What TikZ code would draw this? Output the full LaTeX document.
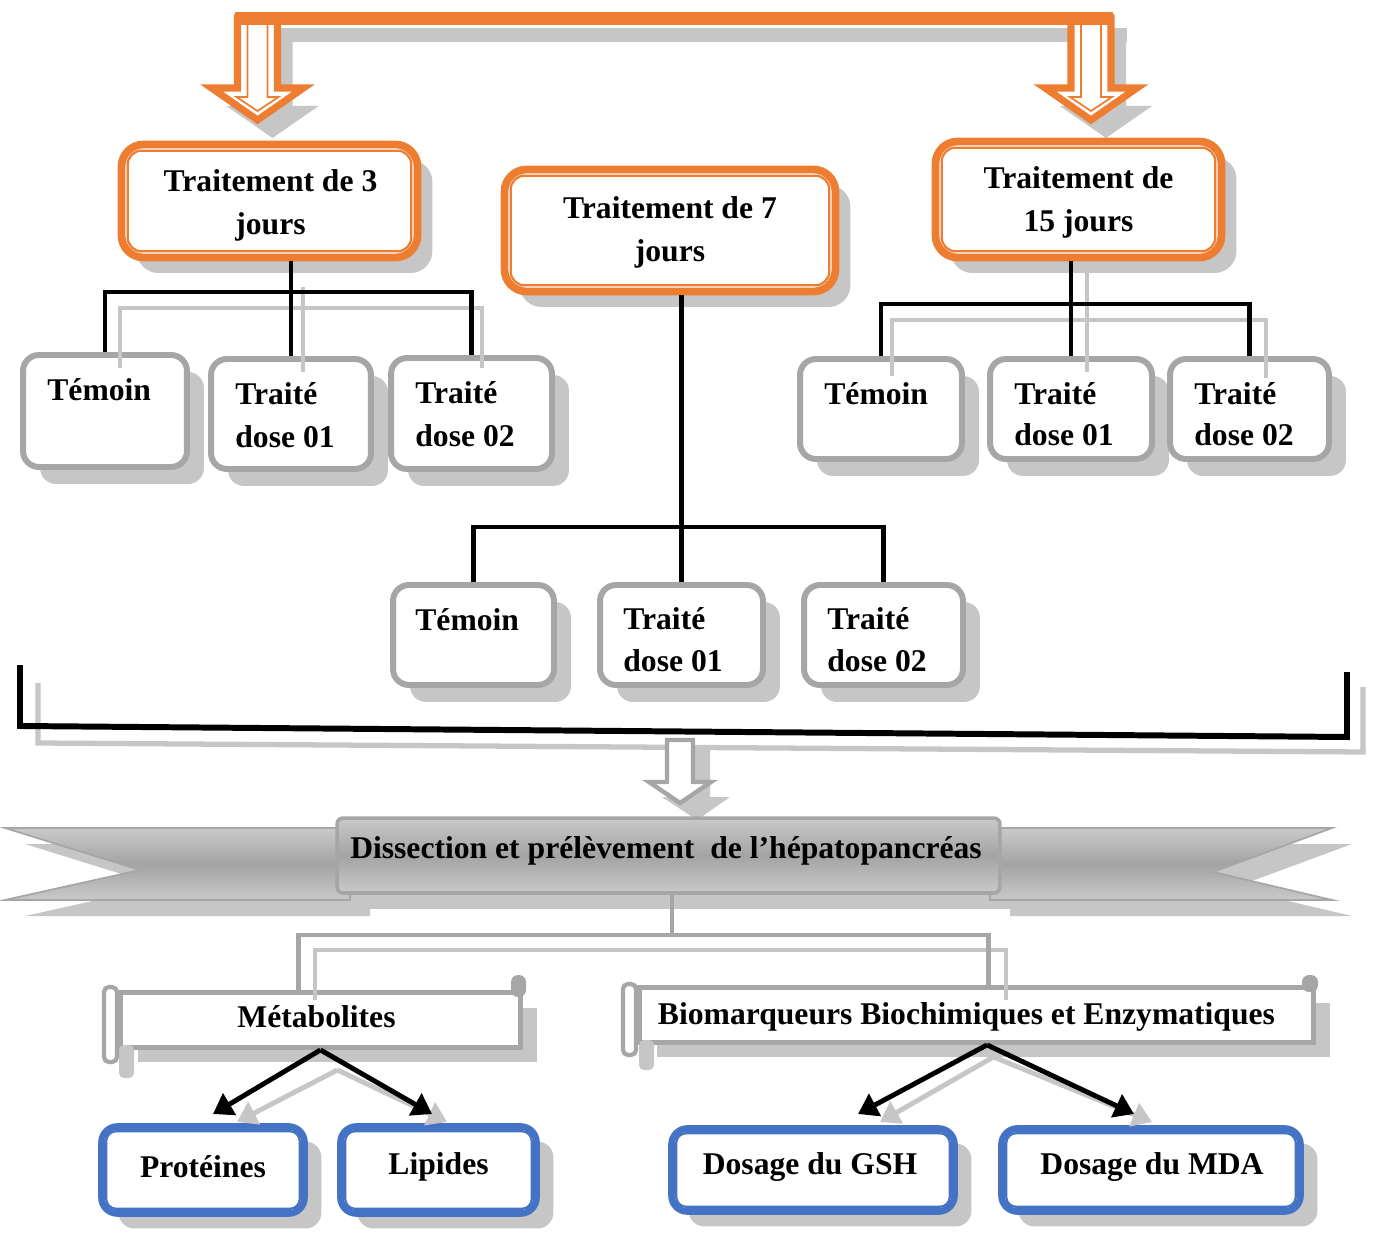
\documentclass[tikz,border=0pt]{standalone}
\usepackage{fontspec}
\setmainfont{Liberation Serif}
\usetikzlibrary{shadows,arrows.meta,calc}
\definecolor{orng}{RGB}{237,125,49}
\definecolor{bblue}{RGB}{68,114,196}
\definecolor{gbord}{RGB}{166,166,166}
\definecolor{shadc}{RGB}{198,198,198}
\newcommand\fs{\fontsize{18}{24.5}\selectfont\bfseries}
\tikzset{
  ob/.style={draw=orng, line width=4.4pt, rounded corners=0.44cm, fill=white, inner sep=0pt,
    drop shadow={shadow xshift=0.3cm, shadow yshift=-0.31cm, fill=shadc, opacity=1}},
  oin/.style={draw=orng, line width=1.3pt, rounded corners=0.28cm},
  gb/.style={draw=gbord, line width=3.4pt, rounded corners=0.32cm, fill=white, inner sep=0pt,
    drop shadow={shadow xshift=0.34cm, shadow yshift=-0.34cm, fill=shadc, opacity=1}},
  bb/.style={draw=bblue, line width=3.8pt, rounded corners=0.32cm, fill=white, inner sep=0pt,
    drop shadow={shadow xshift=0.34cm, shadow yshift=-0.3cm, fill=shadc, opacity=1}},
  bin/.style={draw=bblue, line width=1.3pt, rounded corners=0.2cm},
  sc/.style={draw=gbord, line width=2.8pt, fill=white, inner sep=0pt,
    drop shadow={shadow xshift=0.34cm, shadow yshift=-0.3cm, fill=shadc, opacity=1}},
  blk/.style={line width=2.8pt, black},
  shl/.style={line width=2.6pt, shadc},
  gcon/.style={line width=2.8pt, gbord},
  arr/.style={line width=2.8pt, black, -{Triangle[width=14pt,length=11pt]}},
  sarr/.style={line width=2.8pt, shadc, -{Triangle[width=14pt,length=11pt]}},
  lbl/.style={inner sep=0pt, anchor=base west},
  ctxt/.style={inner sep=0pt, align=center},
  bshade/.style={top color=gray!42, bottom color=gray!42, middle color=gray!72},
  tarr/.style={insert path={(#1-20,18) -- (#1-20,88) -- (#1-46,88) -- (#1,120) -- (#1+46,88) -- (#1+20,88) -- (#1+20,18) -- cycle}},
  tarrin/.style={insert path={(#1-10,18) -- (#1-10,97) -- (#1-21,97) -- (#1,111) -- (#1+21,97) -- (#1+10,97) -- (#1+10,18)}},
}
\begin{document}
\begin{tikzpicture}[x=0.02cm,y=-0.02cm,font=\fs]
\fill[white] (0,0) rectangle (1374,1233);
\useasboundingbox (0,0) rectangle (1374,1233);

% ---------- top orange arrows ----------
\fill[shadc] (252,28) rectangle (1127,42);
\fill[shadc, shift={(15,18)}] [tarr=257.5];
\fill[shadc, shift={(15,18)}] [tarr=1091];
\draw[orng, line width=4pt, fill=white, line join=miter] [tarr=257.5];
\draw[orng, line width=1pt] [tarrin=257.5];
\draw[orng, line width=4pt, fill=white, line join=miter] [tarr=1091];
\draw[orng, line width=1pt] [tarrin=1091];
\fill[orng] (235,12) rectangle (1113,25);

% ---------- treatment boxes ----------
\node[ob, minimum width=5.92cm, minimum height=2.26cm] (o3) at (269.5,201) {};
\node[ob, minimum width=6.62cm, minimum height=2.44cm] (o7) at (670,230.5) {};
\node[ob, minimum width=5.72cm, minimum height=2.32cm] (o15) at (1078.5,199.5) {};
\draw[oin] ($(o3.north west)+(10,10)$) rectangle ($(o3.south east)+(-10,-10)$);
\draw[oin] ($(o7.north west)+(10,10)$) rectangle ($(o7.south east)+(-10,-10)$);
\draw[oin] ($(o15.north west)+(10,10)$) rectangle ($(o15.south east)+(-10,-10)$);
\node[ctxt] (o3t) at ($(o3.center)+(1,4)$) {Traitement de 3\\jours};
\node[ctxt] (o7t) at ($(o7.center)+(0,2)$) {Traitement de 7\\jours};
\node[ctxt] (o15t) at ($(o15.center)+(0,3)$) {Traitement de\\15 jours};

% ---------- group boxes ----------
\node[gb, minimum width=3.28cm, minimum height=2.24cm] (g1) at (105,411) {};
\node[gb, minimum width=3.2cm, minimum height=2.2cm] (g2) at (291,414) {};
\node[gb, minimum width=3.22cm, minimum height=2.22cm] (g3) at (471.5,413.5) {};
\node[gb, minimum width=3.24cm, minimum height=2.0cm] (g4) at (881,409) {};
\node[gb, minimum width=3.24cm, minimum height=2.0cm] (g5) at (1071,409) {};
\node[gb, minimum width=3.18cm, minimum height=2.0cm] (g6) at (1249.5,409) {};
\node[gb, minimum width=3.22cm, minimum height=2.0cm] (g7) at (473.5,635) {};
\node[gb, minimum width=3.26cm, minimum height=2.0cm] (g8) at (681.5,635) {};
\node[gb, minimum width=3.18cm, minimum height=2.0cm] (g9) at (883.5,635) {};

\node[lbl] (t1) at ([shift={(27,48)}]g1.north west) {Témoin};
\node[lbl] (t2a) at ([shift={(27,48)}]g2.north west) {Traité};
\node[lbl] (t2b) at ([shift={(27,91)}]g2.north west) {dose 01};
\node[lbl] (t3a) at ([shift={(27,48)}]g3.north west) {Traité};
\node[lbl] (t3b) at ([shift={(27,91)}]g3.north west) {dose 02};
\node[lbl] (t4) at ([shift={(27,48)}]g4.north west) {Témoin};
\node[lbl] (t5a) at ([shift={(27,48)}]g5.north west) {Traité};
\node[lbl] (t5b) at ([shift={(27,89)}]g5.north west) {dose 01};
\node[lbl] (t6a) at ([shift={(27,48)}]g6.north west) {Traité};
\node[lbl] (t6b) at ([shift={(27,89)}]g6.north west) {dose 02};
\node[lbl] (t7) at ([shift={(25,48)}]g7.north west) {Témoin};
\node[lbl] (t8a) at ([shift={(26,47)}]g8.north west) {Traité};
\node[lbl] (t8b) at ([shift={(26,89)}]g8.north west) {dose 01};
\node[lbl] (t9a) at ([shift={(26,47)}]g9.north west) {Traité};
\node[lbl] (t9b) at ([shift={(26,89)}]g9.north west) {dose 02};

% ---------- connector shadows (top groups) ----------
\draw[shl] (120,368) -- (120,308) -- (482,308) -- (482,368);
\draw[shl] (303,287) -- (303,372);
\draw[shl] (892,376) -- (892,320) -- (1266,320) -- (1266,378);
\draw[shl] (1087,273) -- (1087,372);

% ---------- black connectors ----------
\coordinate (hL) at (0,292);
\coordinate (hM) at (0,527);
\coordinate (hR) at (0,304);
\draw[blk] (g1.north) -- (g1.north |- hL) -- (g3.north |- hL) -- (g3.north);
\draw[blk] (o3.south -| g2.north) -- (g2.north);
\draw[blk] (g7.north) -- (g7.north |- hM) -- (g9.north |- hM) -- (g9.north);
\draw[blk] (o7.south -| g8.north) -- (g8.north);
\draw[blk] (g4.north) -- (g4.north |- hR) -- (g6.north |- hR) -- (g6.north);
\draw[blk] (o15.south -| g5.north) -- (g5.north);

% ---------- bracket ----------
\draw[shl, line width=3pt] (38,683) -- (38,743) -- (1363,752) -- (1363,687);
\draw[black, line width=3.4pt, line join=miter] (20,665) -- (20,726) -- (1347,737) -- (1347,672);

% grey hollow arrow
\fill[shadc] (684,745) -- (684,797) -- (662,797) -- (697,820) -- (730,797) -- (710,797) -- (710,745) -- cycle;
\draw[gbord, line width=2.5pt, fill=white, line join=miter] (667,740) -- (667,782) -- (649,782) -- (680,803) -- (711,782) -- (693,782) -- (693,740) -- cycle;

% ---------- banner ----------
\begin{scope}[shift={(20,16)}]
  \fill[shadc] (5,828) -- (350,828) -- (350,900) -- (5,900) -- (140,870) -- cycle;
  \fill[shadc] (990,828) -- (1332,828) -- (1213,872) -- (1332,900) -- (990,900) -- cycle;
  \fill[shadc] (337,818) rectangle (1000,893);
\end{scope}
\draw[gbord, line width=1pt, bshade] (5,828) -- (350,828) -- (350,900) -- (5,900) -- (140,870) -- cycle;
\draw[gbord, line width=1pt, bshade] (990,828) -- (1332,828) -- (1213,872) -- (1332,900) -- (990,900) -- cycle;
\node[draw=gbord, line width=2pt, bshade, rounded corners=0.12cm, minimum width=13.26cm, minimum height=1.5cm, inner sep=0pt] (dis) at (668.5,855.5) {};
\node[inner sep=0pt] (dtxt) at (666,851) {Dissection et prélèvement~ de l’hépatopancréas};

% ---------- scrolls ----------
\node[sc, minimum width=8.0cm, minimum height=1.1cm] (m) at (320.5,1020) {};
\node[sc, minimum width=13.48cm, minimum height=1.1cm] (bio) at (976.5,1015) {};
\node[inner sep=0pt] (mt) at ($(m.center)+(-4,-3)$) {Métabolites};
\node[inner sep=0pt] (biot) at ($(bio.center)+(-10,2)$) {Biomarqueurs Biochimiques et Enzymatiques};
% curls
\fill[shadc, rounded corners=0.1cm] (119,1045) rectangle (134,1078);
\draw[gbord, line width=2.4pt, fill=white, rounded corners=0.1cm] (104,987) rectangle (117,1062);
\fill[gbord, rounded corners=0.14cm] (511,975) rectangle (526,997);
\fill[shadc, rounded corners=0.1cm] (639,1040) rectangle (654,1070);
\draw[gbord, line width=2.4pt, fill=white, rounded corners=0.1cm] (623,984) rectangle (636,1055);
\fill[gbord, rounded corners=0.14cm] (1302,975) rectangle (1318,992);

% grey connector from banner
\coordinate (jb) at (672,935);
\draw[shl] (315,1000) -- (315,950) -- (1006,950) -- (1006,1000);
\draw[gcon] (dis.south -| jb) -- (jb);
\draw[gcon] ($(m.north west)+(180,0)$) |- (jb) -| ($(bio.north west)+(351,0)$);

% ---------- result boxes ----------
\node[bb, minimum width=4.06cm, minimum height=1.74cm] (b1) at (203,1170) {};
\node[bb, minimum width=3.92cm, minimum height=1.74cm] (b2) at (438.5,1170) {};
\node[bb, minimum width=5.66cm, minimum height=1.66cm] (b3) at (813,1170) {};
\node[bb, minimum width=5.98cm, minimum height=1.66cm] (b4) at (1151,1170) {};
\draw[bin] ($(b1.north west)+(8,8)$) rectangle ($(b1.south east)+(-8,-8)$);
\draw[bin] ($(b2.north west)+(8,8)$) rectangle ($(b2.south east)+(-8,-8)$);
\draw[bin] ($(b3.north west)+(8,8)$) rectangle ($(b3.south east)+(-8,-8)$);
\draw[bin] ($(b4.north west)+(8,8)$) rectangle ($(b4.south east)+(-8,-8)$);
\node[inner sep=0pt] (b1t) at ($(b1.center)+(0,-3)$) {Protéines};
\node[inner sep=0pt] (b2t) at ($(b2.center)+(0,-3)$) {Lipides};
\node[inner sep=0pt] (b3t) at ($(b3.center)+(-3,-3)$) {Dosage du GSH};
\node[inner sep=0pt] (b4t) at ($(b4.center)+(1,-3)$) {Dosage du MDA};

% ---------- arrows ----------
\coordinate (pa) at (213,1114);
\coordinate (la) at (432,1114);
\coordinate (ga) at (858,1114);
\coordinate (ma) at (1134,1114);
\draw[sarr] ([shift={(17,20)}]m.south) -- (237,1122);
\draw[sarr] ([shift={(17,20)}]m.south) -- (447,1122);
\draw[sarr] ([shift={(17,12)}]bio.south) -- (880,1122);
\draw[sarr] ([shift={(17,12)}]bio.south) -- (1152,1122);
\draw[arr] (m.south) -- (pa);
\draw[arr] (m.south) -- (la);
\draw[arr] ([xshift=6]bio.south) -- (ga);
\draw[arr] ([xshift=6]bio.south) -- (ma);
\end{tikzpicture}
\end{document}
